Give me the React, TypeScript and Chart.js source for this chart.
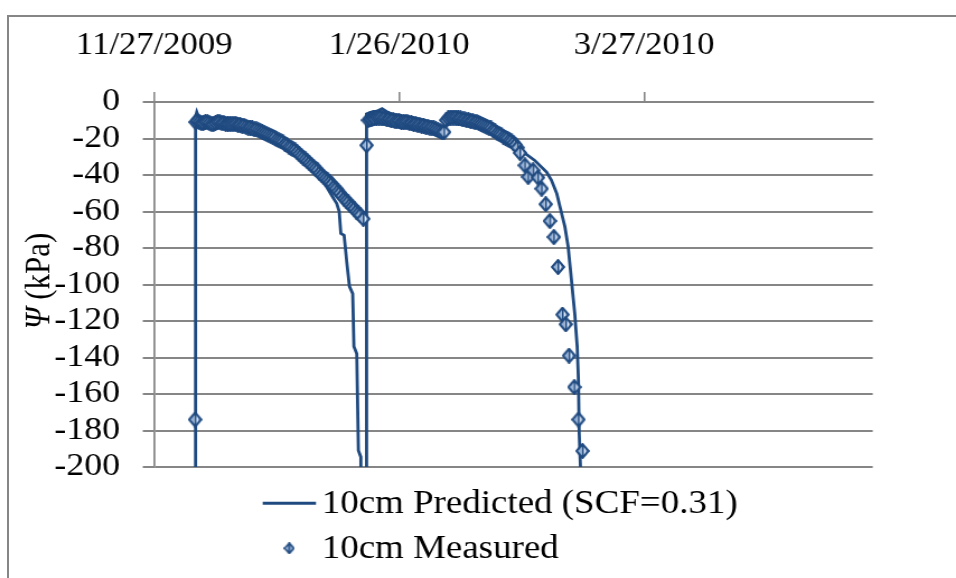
import React, { useEffect, useRef } from 'react';
import { Chart, registerables } from 'chart.js';

Chart.register(...registerables);

// ---- data ----
const xTickDays = [0, 60, 120];
const xTickLabels = ['11/27/2009', '1/26/2010', '3/27/2010'];
const xMin = 0;
const xMax = 176;
const yMin = -200;
const yMax = 0;
const yStep = 20;
const seriesLabels = ['10cm Predicted (SCF=0.31)', '10cm Measured'];
const yTitleSymbol = 'Ψ';
const yTitleUnit = ' (kPa)';

// days since 11/27/2009
const predictedDays = [
  10.1, 10.1, 10.4, 10.9, 12, 14, 16, 18, 20, 22, 24, 26, 28, 30, 32, 34, 36, 38,
  40.6, 42.2, 43.4, 44.7, 45.3, 45.7, 46.5, 47.1, 47.8, 48.6, 48.9, 49.6, 50.0, 50.6, 50.8,
  52.0, 52.0, 53.2, 54.5, 55.8, 57.8, 60, 63, 66, 68.5, 70.4, 71.0, 71.8, 73, 75, 77, 79,
  81, 83, 85, 87, 89, 90.4, 93.2, 96.1, 97.3, 98.6, 99.4, 100.6, 101.4, 102.2, 103.0,
  103.6, 103.9, 104.1, 104.4, 104.6,
];
const predictedValues = [
  -400, -8, -5.5, -8.5, -10, -10.5, -10.5, -11, -11.5, -12.5, -14, -15.5, -17.5, -20, -22.5, -25.5, -29, -33.5,
  -41, -46.5, -51, -55.7, -60, -72, -73, -86.7, -101, -105, -134, -138, -191, -194.5, -400,
  -400, -6.5, -5.5, -5, -3.6, -6.5, -7.5, -8.5, -10, -12, -16, -15, -7, -6.5, -7, -7.5, -8.5,
  -10, -12.5, -15, -18, -22, -27.4, -32, -38.4, -42.9, -50.2, -57.5, -68.5, -79.5, -97.7, -116,
  -134, -152.5, -181.7, -200, -400,
];

const measuredDays = [
  10.0,
  10.1, 10.5, 11, 11.5, 12, 12.5, 13, 13.5, 14, 14.5, 15, 15.5, 16, 16.5, 17, 17.5, 18, 18.5, 19, 19.5,
  20, 20.5, 21, 21.5, 22, 22.5, 23, 23.5, 24, 24.5, 25, 25.5, 26, 26.5, 27, 27.5, 28, 28.5, 29, 29.5,
  30, 30.5, 31, 31.5, 32, 32.5, 33, 33.5, 34, 34.5, 35, 35.5, 36, 36.5, 37, 37.5, 38, 38.5, 39, 39.5,
  40, 40.5, 41, 41.5, 42, 42.5, 43, 43.5, 44, 44.5, 45, 45.5, 46, 46.5, 47, 47.5, 48, 48.5, 49, 49.5,
  50, 50.5, 51.2,
  52.0,
  52.4, 52.8, 53.2, 53.6, 54, 54.5, 55, 55.5, 56, 56.5, 57, 57.5, 58, 58.5, 59, 59.5,
  60, 60.5, 61, 61.5, 62, 62.5, 63, 63.5, 64, 64.5, 65, 65.5, 66, 66.5, 67, 67.5, 68, 68.5, 69, 69.5,
  70, 70.5, 71, 71.5, 72, 72.5, 73, 73.5, 74, 74.5, 75, 75.5, 76, 76.5, 77, 77.5, 78, 78.5, 79, 79.5,
  80, 80.5, 81, 81.5, 82, 82.5, 83, 83.5, 84, 84.5, 85, 85.5, 86, 86.5, 87, 87.5, 88, 88.5, 89,
  89.6, 90.8, 91.6, 92.8, 94.0, 94.9, 95.9, 96.9, 97.9, 98.9, 100.0, 100.8, 101.6, 102.9, 103.9, 104.9,
];
const measuredValues = [
  -174,
  -11, -10.5, -11, -11.5, -11.5, -11, -11, -11.5, -12, -12, -11.5, -11, -11, -11.5, -11.5, -12, -12, -12, -12, -12,
  -12, -12.5, -12.5, -13, -13, -13.5, -14, -14, -14.5, -15, -15, -15.5, -16, -16.5, -17, -17.5, -18, -18.5, -19, -19.5,
  -20.5, -21, -21.5, -22, -23, -23.5, -24.5, -25, -26, -26.5, -27.5, -28.5, -29.5, -30.5, -31.5, -32.5, -33.5, -34.5, -35.5, -36.5,
  -37.5, -39, -40, -41, -42, -43, -44, -45, -46.5, -47.5, -49, -50, -51.5, -53, -54, -55, -56.5, -57.5, -58.5, -60,
  -61, -62, -64,
  -23.7,
  -10, -9.5, -9.5, -9, -9, -8.5, -8.5, -8.5, -9, -9, -9.5, -9.5, -10, -10, -10.5, -10.5,
  -10.5, -11, -11, -11, -11, -11.5, -11.5, -12, -12, -12.5, -12.5, -13, -13, -13.5, -13.5, -14, -14, -14.5, -15, -15.5,
  -16, -16.5, -16.5, -10, -9, -8.5, -8.5, -8.5, -8.5, -9, -9, -9.5, -9.5, -10, -10, -10.5, -10.5, -11, -11, -11.5,
  -12, -12.5, -13, -13.5, -14, -14.5, -15.5, -16, -17, -17.5, -18, -19, -19.5, -20, -21, -21.5, -22.5, -23.5, -25,
  -27.9, -34.7, -41, -37.4, -41.4, -47.5, -56, -65.2, -74, -90.4, -116.5, -121.8, -139, -156.2, -174, -191.2,
];

// ---- styling / layout ----
const W = 854;
const H = 578;
const S = 956 / W; // horizontal stretch of the reference
const FONT = '"Liberation Serif", "Times New Roman", serif';
const BLUE = '#1F4A80';
const GRID = '#868686';

function makeDiamond(w: number, h: number, lw: number) {
  const c = document.createElement('canvas');
  c.width = w;
  c.height = h;
  const g = c.getContext('2d')!;
  const cx = w / 2;
  const cy = h / 2;
  const m = lw / 2;
  const path = () => {
    g.beginPath();
    g.moveTo(cx, m);
    g.lineTo(w - m, cy);
    g.lineTo(cx, h - m);
    g.lineTo(m, cy);
    g.closePath();
  };
  path();
  g.save();
  g.clip();
  g.fillStyle = '#92B0D8';
  g.fillRect(0, 0, w, h);
  g.fillStyle = '#E8EEF8';
  for (let x = 2; x < w; x += 3) g.fillRect(x, 0, 1.1, h);
  g.fillStyle = BLUE;
  g.fillRect(cx - 0.8, 0, 1.6, h);
  g.restore();
  path();
  g.strokeStyle = BLUE;
  g.lineWidth = lw;
  g.stroke();
  return c;
}

export default function App() {
  const ref = useRef<HTMLCanvasElement>(null);

  useEffect(() => {
    const canvas = ref.current;
    if (!canvas) return;
    const pointImg = makeDiamond(13, 16, 2.1);
    const legendImg = makeDiamond(10, 12, 1.7);

    const predicted = predictedDays.map((d, i) => ({ x: d, y: predictedValues[i] }));
    const measured = measuredDays.map((d, i) => ({ x: d, y: measuredValues[i] }));

    const plotLeft = 154.3 / S;
    const plotRight = 872.7 / S;
    const plotTop = 102;
    const plotBottom = 467;

    const overlay = {
      id: 'overlay',
      afterDraw(chart: any) {
        const ctx = chart.ctx as CanvasRenderingContext2D;
        ctx.save();
        // y-axis title
        ctx.translate(40 / S, 281);
        ctx.rotate(-Math.PI / 2);
        ctx.fillStyle = '#000';
        ctx.textBaseline = 'middle';
        ctx.textAlign = 'left';
        ctx.font = `italic 31px ${FONT}`;
        const w1 = ctx.measureText(yTitleSymbol).width;
        ctx.font = `31px ${FONT}`;
        const w2 = ctx.measureText(yTitleUnit).width;
        const start = -(w1 + w2) / 2;
        ctx.font = `italic 31px ${FONT}`;
        ctx.fillText(yTitleSymbol, start, 0);
        ctx.font = `31px ${FONT}`;
        ctx.fillText(yTitleUnit, start + w1, 0);
        ctx.restore();

        // legend
        ctx.save();
        const textX = 321.7 / S;
        const row1 = 504;
        const row2 = 549;
        ctx.strokeStyle = BLUE;
        ctx.lineWidth = 3;
        ctx.beginPath();
        ctx.moveTo(262.7 / S, 503.3);
        ctx.lineTo(316 / S, 503.3);
        ctx.stroke();
        ctx.drawImage(legendImg, 289.3 / S - legendImg.width / 2, 548.3 - legendImg.height / 2);
        ctx.fillStyle = '#000';
        ctx.textBaseline = 'middle';
        ctx.textAlign = 'left';
        ctx.font = `33px ${FONT}`;
        ctx.fillText(chart.data.datasets[0].label, textX, row1);
        ctx.fillText(chart.data.datasets[1].label, textX, row2);
        ctx.restore();
      },
    };

    const chart = new Chart(canvas, {
      type: 'line',
      data: {
        datasets: [
          {
            label: seriesLabels[0],
            data: predicted,
            borderColor: BLUE,
            backgroundColor: BLUE,
            borderWidth: 2.8,
            pointRadius: 0,
            fill: false,
            tension: 0,
            order: 1,
            clip: 0,
          },
          {
            label: seriesLabels[1],
            data: measured,
            showLine: false,
            pointStyle: pointImg as any,
            pointRadius: 7,
            borderColor: BLUE,
            backgroundColor: '#92B0D8',
            order: 0,
          },
        ],
      } as any,
      options: {
        animation: false,
        responsive: true,
        maintainAspectRatio: false,
        events: [],
        layout: {
          padding: { left: 0, top: 0, right: W - plotRight, bottom: H - plotBottom },
        },
        plugins: {
          legend: { display: false },
          tooltip: { enabled: false },
        },
        scales: {
          x: {
            type: 'linear',
            position: 'top',
            min: xMin,
            max: xMax,
            afterBuildTicks: (s: any) => {
              s.ticks = xTickDays.map((v) => ({ value: v }));
            },
            afterFit: (s: any) => {
              s.height = plotTop;
            },
            ticks: {
              autoSkip: false,
              maxRotation: 0,
              minRotation: 0,
              padding: 28,
              color: '#000',
              font: { family: FONT, size: 31 },
              callback: (_v: any, i: number) => xTickLabels[i],
            },
            grid: {
              drawOnChartArea: false,
              drawTicks: true,
              tickLength: 10,
              color: GRID,
              lineWidth: 1.6,
            },
            border: { display: true, color: GRID, width: 2 },
          },
          y: {
            type: 'linear',
            min: yMin,
            max: yMax,
            afterFit: (s: any) => {
              s.width = plotLeft;
            },
            ticks: {
              stepSize: yStep,
              autoSkip: false,
              padding: 20.3,
              color: '#000',
              font: { family: FONT, size: 32 },
            },
            grid: {
              color: GRID,
              lineWidth: 2,
              tickLength: 10.3,
              drawTicks: true,
            },
            border: { display: true, color: GRID, width: 1.8 },
          },
        },
      } as any,
      plugins: [overlay],
    });

    return () => chart.destroy();
  }, []);

  return (
    <div
      style={{
        position: 'absolute',
        left: 0,
        top: 0,
        width: 956,
        height: 578,
        overflow: 'hidden',
        background: '#fff',
      }}
    >
      <div
        style={{
          position: 'absolute',
          left: 7,
          top: 15,
          width: 1000,
          height: 700,
          border: `2px solid ${GRID}`,
        }}
      />
      <div
        style={{
          position: 'absolute',
          left: 0,
          top: 0,
          width: W,
          height: H,
          transform: `scaleX(${S})`,
          transformOrigin: '0 0',
        }}
      >
        <canvas ref={ref} />
      </div>
    </div>
  );
}
